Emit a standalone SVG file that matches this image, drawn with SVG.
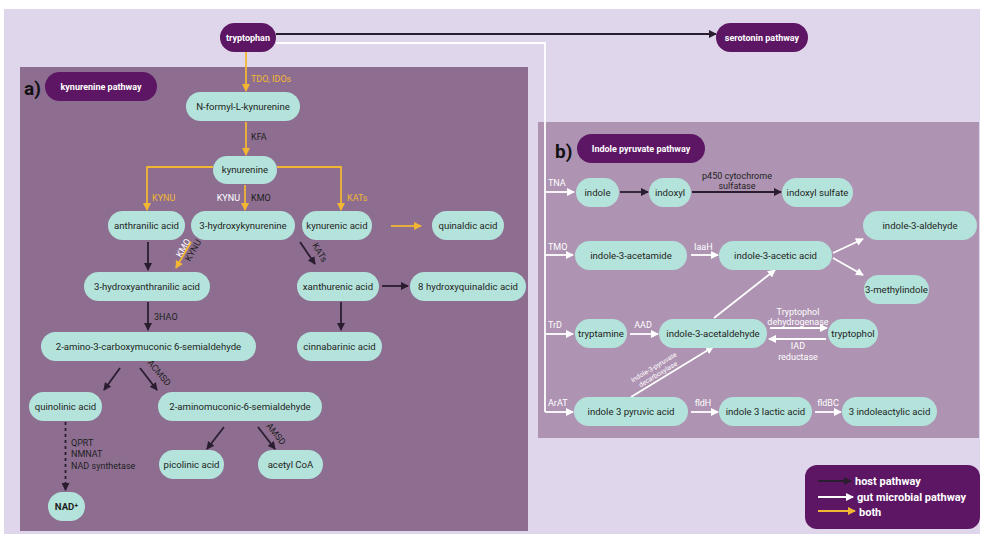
<svg xmlns="http://www.w3.org/2000/svg" width="984" height="536" viewBox="0 0 984 536">
<defs>
<marker id="mB" viewBox="0 0 8 8" refX="7" refY="4" markerWidth="8" markerHeight="8" markerUnits="userSpaceOnUse" orient="auto"><path d="M0,0 L8,4 L0,8 z" fill="#2b1d30"/></marker>
<marker id="mW" viewBox="0 0 8 8" refX="7" refY="4" markerWidth="8" markerHeight="8" markerUnits="userSpaceOnUse" orient="auto"><path d="M0,0 L8,4 L0,8 z" fill="#ffffff"/></marker>
<marker id="mY" viewBox="0 0 8 8" refX="7" refY="4" markerWidth="8" markerHeight="8" markerUnits="userSpaceOnUse" orient="auto"><path d="M0,0 L8,4 L0,8 z" fill="#f2b632"/></marker>
<style>
text{font-family:Roboto,"Liberation Sans",sans-serif}
.n rect{fill:#b4e3dc}
.n text{font-size:9.6px;fill:#1f1f22;text-anchor:middle}
.p rect{fill:#5c1663}
.p text{font-size:9px;fill:#ffffff;font-weight:bold;text-anchor:middle}
.b{stroke:#2b1d30;stroke-width:1.8;fill:none;marker-end:url(#mB)}
.w{stroke:#ffffff;stroke-width:1.8;fill:none}
.wa{stroke:#ffffff;stroke-width:1.8;fill:none;marker-end:url(#mW)}
.y{stroke:#f2b632;stroke-width:1.8;fill:none;marker-end:url(#mY)}
.lb{font-size:9px;fill:#1f1f22}
.lw{font-size:9px;fill:#ffffff}
.ly{font-size:9px;fill:#f2b632}
.big{font-size:19px;font-weight:bold;fill:#111}
.lg{font-size:11px;font-weight:bold;fill:#ffffff}
</style>
</defs>
<rect x="0" y="0" width="984" height="536" fill="#ffffff"/>
<rect x="4" y="9" width="976" height="525" fill="#e0d6eb"/>
<rect x="20" y="67" width="508" height="464" fill="#8d6e91"/>
<rect x="538" y="122" width="441" height="316" fill="#ae93b2"/>
<text class="big" x="24" y="95">a)</text>
<text class="big" x="555" y="158">b)</text>

<g id="connectors">
<line class="b" x1="276" y1="34" x2="716" y2="34"/>
<path class="w" d="M276,43 H545 V412"/>
<line class="y" x1="246" y1="52" x2="246" y2="91"/>
<line class="y" x1="246" y1="122" x2="246" y2="155"/>
<path class="y" d="M213,167 H147 V210"/>
<path class="y" d="M277,167 H341 V210"/>
<line class="y" x1="245" y1="185" x2="245" y2="210"/>
<line class="y" x1="391" y1="226" x2="421" y2="226"/>
<line class="b" x1="148" y1="242" x2="148" y2="270"/>
<line class="y" x1="191" y1="242" x2="176" y2="268"/>
<line class="b" x1="300" y1="242" x2="315" y2="264"/>
<line class="b" x1="382" y1="286" x2="408" y2="286"/>
<line class="b" x1="148" y1="302" x2="148" y2="330"/>
<line class="b" x1="341" y1="302" x2="341" y2="330"/>
<line class="b" x1="120" y1="368" x2="104" y2="390"/>
<line class="b" x1="140" y1="368" x2="157" y2="390"/>
<line class="b" x1="65.5" y1="422" x2="65.5" y2="490" stroke-dasharray="3,3"/>
<line class="b" x1="224" y1="427" x2="207" y2="449"/>
<line class="b" x1="258" y1="427" x2="275" y2="449"/>

<line class="wa" x1="545" y1="192" x2="574" y2="192"/>
<line class="b" x1="620" y1="192" x2="648" y2="192"/>
<line class="b" x1="692" y1="192" x2="781" y2="192"/>
<line class="wa" x1="545" y1="255" x2="573" y2="255"/>
<line class="wa" x1="691" y1="255" x2="718" y2="255"/>
<line class="wa" x1="833" y1="253" x2="863" y2="239"/>
<line class="wa" x1="833" y1="258" x2="863" y2="275"/>
<line class="wa" x1="545" y1="334" x2="573" y2="334"/>
<line class="wa" x1="630" y1="334" x2="658" y2="334"/>
<line class="wa" x1="714" y1="318" x2="775" y2="270"/>
<line class="wa" x1="770" y1="328" x2="827" y2="328"/>
<line class="wa" x1="826" y1="339" x2="769" y2="339"/>
<line class="wa" x1="545" y1="412" x2="573" y2="412"/>
<line class="wa" x1="631" y1="397" x2="713" y2="347"/>
<line class="wa" x1="691" y1="412" x2="718" y2="412"/>
<line class="wa" x1="815" y1="412" x2="841" y2="412"/>
</g>

<g id="edge-labels">
<text class="ly" x="251" y="82">TDO, IDOs</text>
<text class="lb" x="251" y="140">KFA</text>
<text class="ly" x="152" y="201">KYNU</text>
<text class="lw" x="240" y="201" text-anchor="end">KYNU</text>
<text class="lb" x="251" y="201">KMO</text>
<text class="ly" x="347" y="201">KATs</text>
<text class="lw" transform="translate(181,258) rotate(-60)">KMO</text>
<text class="lb" transform="translate(190,262) rotate(-60)">KYNU</text>
<text class="lb" transform="translate(312,245) rotate(60)">KATs</text>
<text class="lb" x="154" y="320">3HAO</text>
<text class="lb" transform="translate(147,363) rotate(50)">ACMSD</text>
<text class="lb" x="71" y="446">QPRT</text>
<text class="lb" x="71" y="457">NMNAT</text>
<text class="lb" x="71" y="469">NAD synthetase</text>
<text class="lb" transform="translate(266,426) rotate(52)">AMSD</text>
<text class="lw" x="548" y="186">TNA</text>
<text class="lb" x="737" y="179" text-anchor="middle">p450 cytochrome</text>
<text class="lb" x="737" y="189" text-anchor="middle">sulfatase</text>
<text class="lw" x="548" y="250">TMO</text>
<text class="lw" x="694" y="250">IaaH</text>
<text class="lw" x="548" y="328">TrD</text>
<text class="lw" x="643" y="328" text-anchor="middle">AAD</text>
<text class="lw" x="798" y="315" text-anchor="middle">Tryptophol</text>
<text class="lw" x="798" y="325" text-anchor="middle">dehydrogenase</text>
<text class="lw" x="798" y="349" text-anchor="middle">IAD</text>
<text class="lw" x="798" y="360" text-anchor="middle">reductase</text>
<text class="lw" x="548" y="406">ArAT</text>
<text class="lw" x="703" y="406" text-anchor="middle">fldH</text>
<text class="lw" x="828" y="406" text-anchor="middle">fldBC</text>
<g transform="translate(656,371) rotate(-31)">
<text x="0" y="-2" text-anchor="middle" style="font-size:6.8px;fill:#ffffff">indole-3-pyruvate</text>
<text x="0" y="6" text-anchor="middle" style="font-size:6.8px;fill:#ffffff">decarboxylase</text>
</g>
</g>

<g id="tryptophan" class="p"><rect x="220" y="23" width="56" height="29" rx="14.5"/><text x="248" y="40.5">tryptophan</text></g>
<g id="serotonin-pathway" class="p"><rect x="716" y="23" width="92" height="29" rx="14.5"/><text x="762" y="40.5">serotonin pathway</text></g>
<g id="kynurenine-pathway" class="p"><rect x="45" y="72" width="112" height="29" rx="14.5"/><text x="101" y="90">kynurenine pathway</text></g>
<g id="indole-pyruvate-pathway" class="p"><rect x="577" y="134" width="128" height="29" rx="14.5"/><text x="641" y="151.5">Indole pyruvate pathway</text></g>

<g id="n-formyl-l-kynurenine" class="n"><rect x="186" y="92" width="114" height="29" rx="14.5"/><text x="243" y="109.5">N-formyl-L-kynurenine</text></g>
<g id="kynurenine" class="n"><rect x="213" y="156" width="64" height="28" rx="14"/><text x="245" y="173">kynurenine</text></g>
<g id="anthranilic-acid" class="n"><rect x="108" y="211" width="77" height="29" rx="14.5"/><text x="146.5" y="228.5">anthranilic acid</text></g>
<g id="3-hydroxykynurenine" class="n"><rect x="191" y="211" width="104" height="29" rx="14.5"/><text x="243" y="228.5">3-hydroxykynurenine</text></g>
<g id="kynurenic-acid" class="n"><rect x="302" y="211" width="70" height="29" rx="14.5"/><text x="337" y="228.5">kynurenic acid</text></g>
<g id="quinaldic-acid" class="n"><rect x="432" y="211" width="72" height="29" rx="14.5"/><text x="468" y="228.5">quinaldic acid</text></g>
<g id="3-hydroxyanthranilic-acid" class="n"><rect x="84" y="272" width="126" height="29" rx="14.5"/><text x="147" y="289.5">3-hydroxyanthranilic acid</text></g>
<g id="xanthurenic-acid" class="n"><rect x="297" y="272" width="82" height="29" rx="14.5"/><text x="338" y="289.5">xanthurenic acid</text></g>
<g id="8-hydroxyquinaldic-acid" class="n"><rect x="410" y="272" width="116" height="29" rx="14.5"/><text x="468" y="289.5">8 hydroxyquinaldic acid</text></g>
<g id="2-amino-3-carboxymuconic-6-semialdehyde" class="n"><rect x="41" y="332" width="215" height="29" rx="14.5"/><text x="148.5" y="349.5">2-amino-3-carboxymuconic 6-semialdehyde</text></g>
<g id="cinnabarinic-acid" class="n"><rect x="297" y="332" width="85" height="29" rx="14.5"/><text x="339.5" y="349.5">cinnabarinic acid</text></g>
<g id="quinolinic-acid" class="n"><rect x="29" y="392" width="73" height="29" rx="14.5"/><text x="65.5" y="409.5">quinolinic acid</text></g>
<g id="2-aminomuconic-6-semialdehyde" class="n"><rect x="158" y="392" width="164" height="29" rx="14.5"/><text x="240" y="409.5">2-aminomuconic-6-semialdehyde</text></g>
<g id="nad" class="n"><rect x="48" y="492" width="37" height="29" rx="14.5"/><text x="66.5" y="509.5" style="font-weight:bold">NAD⁺</text></g>
<g id="picolinic-acid" class="n"><rect x="159" y="450" width="65" height="29" rx="14.5"/><text x="191.5" y="467.5">picolinic acid</text></g>
<g id="acetyl-coa" class="n"><rect x="258" y="450" width="65" height="29" rx="14.5"/><text x="290.5" y="467.5">acetyl CoA</text></g>

<g id="indole" class="n"><rect x="576" y="178" width="43" height="29" rx="14.5"/><text x="597.5" y="195.5">indole</text></g>
<g id="indoxyl" class="n"><rect x="649" y="178" width="42" height="29" rx="14.5"/><text x="670" y="195.5">indoxyl</text></g>
<g id="indoxyl-sulfate" class="n"><rect x="782" y="178" width="71" height="29" rx="14.5"/><text x="817.5" y="195.5">indoxyl sulfate</text></g>
<g id="indole-3-aldehyde" class="n"><rect x="863" y="211" width="114" height="29" rx="14.5"/><text x="920" y="228.5">indole-3-aldehyde</text></g>
<g id="indole-3-acetamide" class="n"><rect x="575" y="241" width="112" height="29" rx="14.5"/><text x="631" y="258.5">indole-3-acetamide</text></g>
<g id="indole-3-acetic-acid" class="n"><rect x="719" y="241" width="113" height="29" rx="14.5"/><text x="775.5" y="258.5">indole-3-acetic acid</text></g>
<g id="3-methylindole" class="n"><rect x="864" y="275" width="65" height="29" rx="14.5"/><text x="896.5" y="292.5">3-methylindole</text></g>
<g id="tryptamine" class="n"><rect x="575" y="319" width="52" height="29" rx="14.5"/><text x="601" y="336.5">tryptamine</text></g>
<g id="indole-3-acetaldehyde" class="n"><rect x="659" y="319" width="108" height="29" rx="14.5"/><text x="713" y="336.5">indole-3-acetaldehyde</text></g>
<g id="tryptophol" class="n"><rect x="828" y="319" width="50" height="29" rx="14.5"/><text x="853" y="336.5">tryptophol</text></g>
<g id="indole-3-pyruvic-acid" class="n"><rect x="574" y="397" width="114" height="29" rx="14.5"/><text x="631" y="414.5">indole 3 pyruvic acid</text></g>
<g id="indole-3-lactic-acid" class="n"><rect x="719" y="397" width="93" height="29" rx="14.5"/><text x="765.5" y="414.5">indole 3 lactic acid</text></g>
<g id="3-indoleactylic-acid" class="n"><rect x="842" y="397" width="95" height="29" rx="14.5"/><text x="889.5" y="414.5">3 indoleactylic acid</text></g>

<g id="legend">
<rect x="805" y="465" width="175" height="64" rx="12" fill="#5c1663"/>
<line class="b" x1="818" y1="481" x2="851" y2="481"/>
<line class="wa" x1="818" y1="497" x2="853" y2="497"/>
<line class="y" x1="818" y1="511" x2="855" y2="511"/>
<text class="lg" x="855" y="485">host pathway</text>
<text class="lg" x="857" y="501">gut microbial pathway</text>
<text class="lg" x="859" y="516">both</text>
</g>
</svg>
